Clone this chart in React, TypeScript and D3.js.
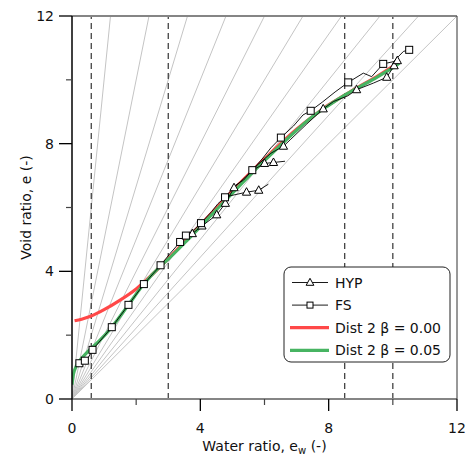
import React from "react";
import * as d3 from "d3";

const W = 468;
const H = 457;

// Axis ticks
const majorTicks = [0, 4, 8, 12];
const minorTicks = [2, 6, 10];

// Degree-of-saturation guide lines (e = ew / S)
const saturationLines = [0.1, 0.2, 0.3, 0.4, 0.5, 0.6, 0.7, 0.8, 0.9, 1.0];
// Dashed reference water ratios
const dashedX = [0.6, 3.0, 8.5, 10.0];

// FS test: [ew, e, marker]
const fsSeries: [number, number, number][] = [
  [0.23, 1.12, 1], [0.31, 1.22, 0], [0.4, 1.2, 1], [0.52, 1.32, 0], [0.64, 1.54, 1],
  [1.24, 2.25, 1], [1.76, 2.95, 1], [2.24, 3.6, 1], [2.76, 4.19, 1], [3.05, 4.55, 0],
  [3.37, 4.92, 1], [3.55, 5.12, 1], [3.8, 5.3, 0], [4.02, 5.51, 1], [4.35, 5.87, 0],
  [4.55, 6.12, 0], [4.77, 6.32, 1], [5.1, 6.7, 0], [5.35, 6.86, 0], [5.62, 7.17, 1],
  [5.95, 7.55, 0], [6.2, 7.87, 0], [6.51, 8.19, 1], [6.9, 8.55, 0], [7.2, 8.9, 0],
  [7.44, 9.03, 1], [7.8, 9.3, 0], [8.2, 9.62, 0], [8.61, 9.92, 1], [9.08, 10.21, 0],
  [9.34, 10.1, 0], [9.7, 10.5, 1], [10.02, 10.57, 0], [10.33, 10.89, 0], [10.51, 10.94, 1],
];

// HYP test: main path and two side branches: [ew, e, marker]
const hypMain: [number, number, number][] = [
  [3.45, 5.0, 0], [3.75, 5.18, 1], [4.05, 5.42, 1], [4.51, 5.77, 1], [4.78, 6.13, 1],
  [5.05, 6.62, 1], [5.4, 6.95, 0], [5.8, 7.35, 0], [6.2, 7.7, 0], [6.59, 7.92, 1],
  [6.8, 8.12, 0], [7.3, 8.6, 0], [7.83, 9.09, 1], [8.15, 9.32, 0], [8.6, 9.5, 0],
  [8.87, 9.69, 1], [9.4, 9.9, 0], [9.81, 10.08, 1], [10.04, 10.44, 1], [10.14, 10.6, 1],
];
const hypBranch1: [number, number, number][] = [
  [4.85, 6.35, 0], [5.44, 6.48, 1], [5.82, 6.54, 1], [6.12, 6.73, 0],
];
const hypBranch2: [number, number, number][] = [
  [5.6, 7.15, 0], [6.0, 7.38, 1], [6.28, 7.41, 1], [6.64, 7.45, 0],
];

// Dist 2 model curves
const dist000: [number, number][] = [
  [0.08, 2.45], [0.3, 2.5], [0.6, 2.6], [1.0, 2.8], [1.5, 3.1], [2.0, 3.45], [2.5, 3.9],
  [3.0, 4.4], [3.5, 4.92], [4.0, 5.45], [4.5, 5.98], [5.0, 6.52], [5.5, 7.03], [6.0, 7.52],
  [6.5, 8.0], [7.0, 8.45], [7.5, 8.85], [8.0, 9.22], [8.5, 9.52], [9.0, 9.82], [9.5, 10.1],
  [10.0, 10.42],
];
const dist005: [number, number][] = [
  [0.0, 0.45], [0.03, 0.7], [0.07, 0.88], [0.18, 1.12], [0.44, 1.43], [0.85, 1.82],
  [1.24, 2.25], [1.76, 2.95], [2.22, 3.58], [2.74, 4.15], [3.0, 4.38], [3.5, 4.88],
  [4.0, 5.4], [4.5, 5.93], [5.0, 6.45], [5.5, 6.97], [6.0, 7.47], [6.5, 7.95], [7.0, 8.42],
  [7.5, 8.85], [8.0, 9.2], [8.5, 9.52], [9.0, 9.8], [9.5, 10.08], [10.0, 10.38], [10.2, 10.52],
];

const legendLabels = ["HYP", "FS", "Dist 2 \u03b2 = 0.00", "Dist 2 \u03b2 = 0.05"];

const RED = "#ff4848";
const GREEN = "#47b462";
const FONT = "'DejaVu Sans', Verdana, sans-serif";

const x = d3.scaleLinear().domain([0, 12]).range([72, 457]);
const y = d3.scaleLinear().domain([0, 12]).range([399, 16]);

const dataLine = d3.line<[number, number, number]>().x((d) => x(d[0])).y((d) => y(d[1]));
const curveLine = d3
  .line<[number, number]>()
  .x((d) => x(d[0]))
  .y((d) => y(d[1]))
  .curve(d3.curveCatmullRom.alpha(0.5));

const triPath = (cx: number, cy: number, s: number) =>
  `M${cx},${cy - s * 0.6}L${cx + s * 0.55},${cy + s * 0.4}L${cx - s * 0.55},${cy + s * 0.4}Z`;

function Squares({ pts }: { pts: [number, number, number][] }) {
  return (
    <g>
      {pts.filter((p) => p[2]).map((p, i) => (
        <rect key={i} x={x(p[0]) - 3.5} y={y(p[1]) - 3.5} width={7} height={7} fill="white" stroke="black" strokeWidth={1} />
      ))}
    </g>
  );
}
function Triangles({ pts }: { pts: [number, number, number][] }) {
  return (
    <g>
      {pts.filter((p) => p[2]).map((p, i) => (
        <path key={i} d={triPath(x(p[0]), y(p[1]), 7.5)} fill="white" stroke="black" strokeWidth={1} />
      ))}
    </g>
  );
}

export default function App() {
  const [x0, x1] = x.range();
  const [y0, y1] = y.range(); // y0 bottom, y1 top
  const legendRowY = legendLabels.map((_, i) => 282.5 + i * 22.6);
  return (
    <svg width={W} height={H} style={{ position: "absolute", left: 0, top: 0, background: "white" }} fontFamily={FONT}>
      <defs>
        <clipPath id="plot">
          <rect x={x0} y={y1} width={x1 - x0} height={y0 - y1} />
        </clipPath>
      </defs>
      <rect x={0} y={0} width={W} height={H} fill="white" />
      <g clipPath="url(#plot)">
        {saturationLines.map((s, i) => (
          <line key={i} x1={x(0)} y1={y(0)} x2={x(12 * s)} y2={y(12)} stroke="#c4c4c4" strokeWidth={1} />
        ))}
        {dashedX.map((d, i) => (
          <line key={i} x1={x(d)} x2={x(d)} y1={y(0)} y2={y(12)} stroke="#333" strokeWidth={1.2} strokeDasharray="6,4" />
        ))}
        <path d={curveLine(dist000) || ""} fill="none" stroke={RED} strokeWidth={3.2} />
        <path d={curveLine(dist005) || ""} fill="none" stroke={GREEN} strokeWidth={3.2} />
        <path d={dataLine(fsSeries) || ""} fill="none" stroke="black" strokeWidth={0.9} />
        <path d={dataLine(hypMain) || ""} fill="none" stroke="black" strokeWidth={0.9} />
        <path d={dataLine(hypBranch1) || ""} fill="none" stroke="black" strokeWidth={0.9} />
        <path d={dataLine(hypBranch2) || ""} fill="none" stroke="black" strokeWidth={0.9} />
        <Triangles pts={hypMain} />
        <Triangles pts={hypBranch1} />
        <Triangles pts={hypBranch2} />
        <Squares pts={fsSeries} />
      </g>
      {/* frame */}
      <line x1={x0} x2={x1} y1={y1} y2={y1} stroke="#858585" strokeWidth={2} />
      <line x1={x0} x2={x1} y1={y0} y2={y0} stroke="#858585" strokeWidth={2} />
      <line x1={x1} x2={x1} y1={y1} y2={y0} stroke="#333" strokeWidth={1} />
      <line x1={x0} x2={x0} y1={y1} y2={y0} stroke="black" strokeWidth={1.5} />
      {/* ticks */}
      {majorTicks.map((t) => (
        <g key={"mx" + t}>
          <line x1={x(t)} x2={x(t)} y1={y0} y2={y0 + 12} stroke="black" strokeWidth={1.3} />
          <text x={x(t)} y={433} textAnchor="middle" fontSize={14} fill="#111">{t}</text>
          <line x1={x0 - 13} x2={x0} y1={y(t)} y2={y(t)} stroke="black" strokeWidth={1.3} />
          <text x={54} y={y(t) + 5} textAnchor="end" fontSize={14} fill="#111">{t}</text>
        </g>
      ))}
      {minorTicks.map((t) => (
        <g key={"mn" + t}>
          <line x1={x(t)} x2={x(t)} y1={y0} y2={y0 + 6} stroke="#444" strokeWidth={1.2} />
          <line x1={x0 - 6} x2={x0} y1={y(t)} y2={y(t)} stroke="#444" strokeWidth={1.2} />
        </g>
      ))}
      {/* axis titles */}
      <text x={(x0 + x1) / 2} y={451} textAnchor="middle" fontSize={14} fill="#111">
        <tspan>Water ratio, e</tspan>
        <tspan fontSize={10} dy={3}>w</tspan>
        <tspan dy={-3}> (-)</tspan>
      </text>
      <text transform={`translate(31,${(y0 + y1) / 2}) rotate(-90)`} textAnchor="middle" fontSize={14} fill="#111">
        Void ratio, e (-)
      </text>
      {/* legend */}
      <rect x={284} y={267} width={166} height={95} rx={7} fill="white" stroke="#222" strokeWidth={1} />
      {legendLabels.map((lab, i) => {
        const ly = legendRowY[i];
        return (
          <g key={lab}>
            {i < 2 ? (
              <line x1={292} x2={328} y1={ly} y2={ly} stroke="black" strokeWidth={0.9} />
            ) : (
              <line x1={290} x2={329} y1={ly} y2={ly} stroke={i === 2 ? RED : GREEN} strokeWidth={3.2} />
            )}
            {i === 0 && <path d={triPath(310, ly, 7)} fill="white" stroke="black" strokeWidth={1} />}
            {i === 1 && <rect x={307} y={ly - 3} width={6} height={6} fill="white" stroke="black" strokeWidth={1} />}
            <text x={335} y={ly + 5} fontSize={14} fill="#111">{lab}</text>
          </g>
        );
      })}
    </svg>
  );
}
